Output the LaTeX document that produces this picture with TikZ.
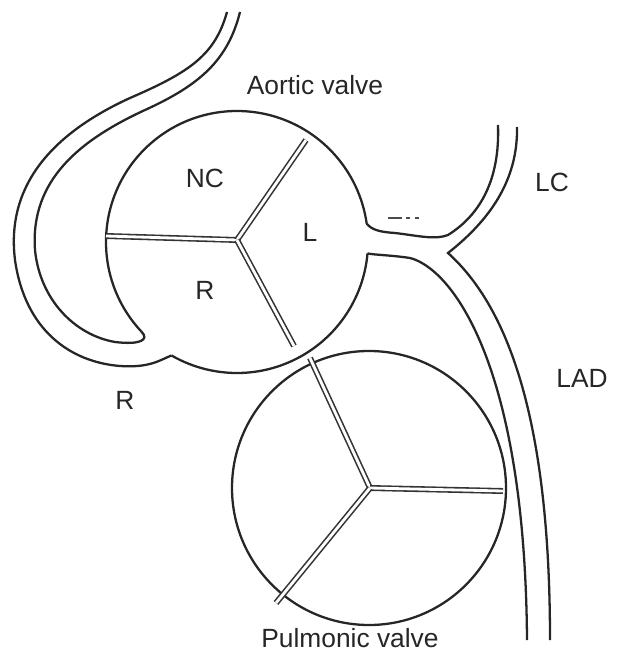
\documentclass[tikz,border=0pt]{standalone}
\usepackage{fontspec}
\setmainfont{Liberation Sans}
\usetikzlibrary{calc}
\begin{document}
\begin{tikzpicture}[x=0.02cm,y=-0.02cm,
  ln/.style={draw=black!85,line width=1.3pt},
  comm/.style={draw=black!80,double=white,double distance=1.6pt,line width=0.9pt},
  lbl/.style={font=\fontsize{15}{17}\selectfont,text=black!85}]
\useasboundingbox (0,0) rectangle (630,669);
% aortic valve
\coordinate (ac) at (237,240);
\coordinate (ao) at (237,242);
\draw[ln] ($(ao)+(5:131)$) arc (5:120:131);
\draw[ln] ($(ao)+(137:131)$) arc (137:352:131);
\draw[comm] (ac) -- (106,236);
\draw[comm] (ac) -- (306,140);
\draw[comm] (ac) -- (294,346);
% pulmonic valve
\coordinate (pc) at (370,488);
\draw[ln] (369,488) circle (137);
\draw[comm] (pc) -- (310,358);
\draw[comm] (pc) -- (503,491);
\draw[comm] (pc) -- (276,603);
% right coronary
\draw[ln] ($(ao)+(120:131)$) .. controls (160,360) and (150,368) .. (120,366)
  .. controls (70,362) and (25,330) .. (15,260)
  .. controls (5,180) and (60,130) .. (130,98)
  .. controls (190,72) and (215,55) .. (227,12);
\draw[ln] ($(ao)+(137:131)$) .. controls (150,340) and (140,345) .. (115,342)
  .. controls (75,335) and (40,300) .. (35,250)
  .. controls (30,180) and (80,140) .. (145,110)
  .. controls (200,85) and (228,60) .. (240,12);
% left coronary
\draw[ln] ($(ao)+(352:131)$) .. controls (372,230) and (380,232) .. (395,233)
  .. controls (420,236) and (435,240) .. (448,235)
  .. controls (480,215) and (500,180) .. (498,125);
\draw[ln] (517,127) .. controls (518,180) and (490,220) .. (448,253)
  .. controls (500,300) and (550,400) .. (550,640);
\draw[ln] ($(ao)+(5:131)$) .. controls (375,255) and (390,255) .. (410,258)
  .. controls (450,268) and (525,360) .. (527,640);
\draw[black!70,line width=1pt] (388,218) -- (402,218) (406,218) -- (410,218) (415,218) -- (419,218);
% labels
\node[lbl] (t1) at (315,85) {Aortic valve};
\node[lbl] (t2) at (205,178) {NC};
\node[lbl] (t3) at (310,232) {L};
\node[lbl] (t4) at (205,290) {R};
\node[lbl] (t5) at (125,400) {R};
\node[lbl] (t6) at (552,182) {LC};
\node[lbl] (t7) at (582,378) {LAD};
\node[lbl] (t8) at (350,638) {Pulmonic valve};
\end{tikzpicture}
\end{document}
